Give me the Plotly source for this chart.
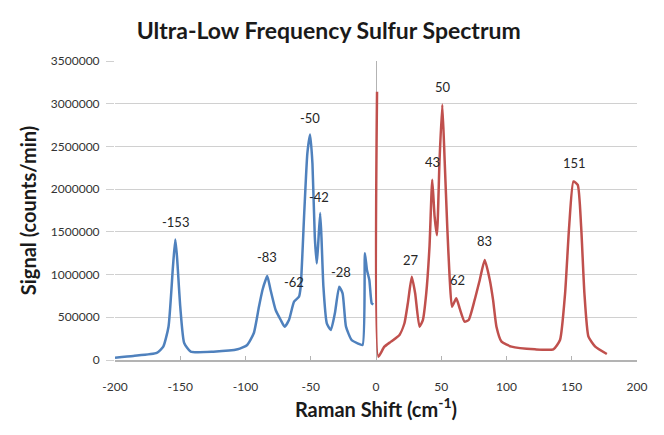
import plotly.graph_objects as go

# Anti-Stokes side (blue)
blue_x = [-200, -186, -168, -163, -159, -155.6, -153.8, -152.5, -150, -147, -142, -124.6,
          -106, -98.7, -93.6, -89.7, -87, -84.6, -83.3, -80.8, -76.9, -73, -70, -66.7,
          -62.8, -59, -57.7, -55, -52.6, -50.5, -48.7, -46.9, -45.4, -44.4, -42.8, -41.8,
          -40.3, -37.7, -34.6, -31.5, -28.2, -25.6, -23, -18.7, -14.1, -10.3, -8.5, -6.9,
          -5.1, -3.3, -2.0]
blue_y = [27000, 47000, 82000, 156000, 390000, 1090000, 1410000, 1210000, 624000, 199000, 98000, 98000,
          125000, 176000, 316000, 624000, 820000, 937000, 984000, 820000, 585000, 468000, 390000, 468000,
          683000, 741000, 858000, 1720000, 2420000, 2640000, 2300000, 1440000, 1130000, 1330000, 1720000, 1440000,
          858000, 430000, 351000, 547000, 858000, 781000, 390000, 234000, 195000, 176000, 1250000, 1050000,
          937000, 664000, 650000]

# Stokes side (red)
red_x = [0.8, 1.8, 6.4, 11.5, 18, 21.8, 24.4, 27.4, 30, 33.3, 35.9, 38.5, 41, 43.1, 44.9, 46.7,
         48.7, 50.8, 52.6, 54.6, 56.4, 58.2, 61.5, 64.1, 67.9, 71, 75.6, 79.5, 83.3, 87.2, 89.7,
         92.3, 96.2, 103.8, 121.8, 135.9, 141, 144.9, 148, 151.3, 154.6, 157.2, 159.7, 162.8, 168, 176.9]
red_y = [3140000, 39000, 156000, 215000, 293000, 430000, 664000, 975000, 781000, 390000, 468000, 781000,
         1330000, 2110000, 1680000, 1460000, 2340000, 2990000, 2340000, 1560000, 975000, 624000, 722000,
         605000, 449000, 468000, 703000, 937000, 1170000, 937000, 703000, 390000, 215000, 156000, 125000,
         125000, 234000, 781000, 1560000, 2090000, 2050000, 1560000, 781000, 273000, 156000, 70000]

# Peak labels
label_text = ["-153", "-83", "-62", "-50", "-42", "-28", "27", "43", "50", "62", "83", "151"]
label_x = [-153.8, -83.3, -62.8, -50.5, -43.6, -26.9, 26.9, 43.6, 51.3, 62.8, 83.3, 152]
label_y = [1620000, 1210000, 917000, 2830000, 1910000, 1030000, 1170000, 2320000, 3190000, 937000, 1390000, 2310000]

x_ticks = [-200, -150, -100, -50, 0, 50, 100, 150, 200]
x_tick_text = ["-200", "-150", "-100", "-50", "0", "50", "100", "150", "200"]
y_ticks = [0, 500000, 1000000, 1500000, 2000000, 2500000, 3000000, 3500000]
y_tick_text = ["0", "500000", "1000000", "1500000", "2000000", "2500000", "3000000", "3500000"]

FONT = "Lato"
fig = go.Figure()
fig.add_trace(go.Scatter(x=blue_x, y=blue_y, mode="lines",
                         line=dict(color="#4F81BD", width=2.5, shape="spline", smoothing=0.5),
                         showlegend=False))
fig.add_trace(go.Scatter(x=red_x, y=red_y, mode="lines",
                         line=dict(color="#C0504D", width=2.5, shape="spline", smoothing=0.5),
                         showlegend=False))

for t, x, y in zip(label_text, label_x, label_y):
    fig.add_annotation(x=x, y=y, text=t, showarrow=False,
                       font=dict(family=FONT, size=13, color="#262626"))

fig.update_layout(
    width=664, height=435,
    margin=dict(l=115, r=27, t=61, b=75),
    paper_bgcolor="white", plot_bgcolor="white",
    title=dict(text="<b>Ultra-Low Frequency Sulfur Spectrum</b>", x=0.495, xanchor="center",
               y=0.93, yanchor="middle", font=dict(family=FONT, size=23, color="#1a1a1a")),
    font=dict(family=FONT, color="#404040"),
)
fig.update_xaxes(range=[-200, 200], tickvals=x_ticks, ticktext=x_tick_text, showgrid=False,
                 showline=True, linecolor="#b3b3b3", linewidth=1.5,
                 ticks="inside", ticklen=4, tickcolor="#b3b3b3",
                 ticklabelstandoff=15,
                 zeroline=True, zerolinecolor="#b3b3b3", zerolinewidth=1,
                 tickfont=dict(family=FONT, size=12, color="#333333"),
                 title=dict(text="<b>Raman Shift (cm<sup>-1</sup>)</b>", standoff=8,
                            font=dict(family=FONT, size=20, color="#1a1a1a")))
fig.update_yaxes(range=[0, 3500000], tickvals=y_ticks, ticktext=y_tick_text,
                 showgrid=True, gridcolor="#d0d0d0", gridwidth=1.2,
                 zeroline=False, showline=False,
                 ticks="outside", ticklen=8, tickcolor="#d0d0d0",
                 ticklabelstandoff=4,
                 tickfont=dict(family=FONT, size=12, color="#333333"),
                 title=dict(text="<b>Signal (counts/min)</b>", standoff=8,
                            font=dict(family=FONT, size=20, color="#1a1a1a")))

fig.write_html("out.html")
